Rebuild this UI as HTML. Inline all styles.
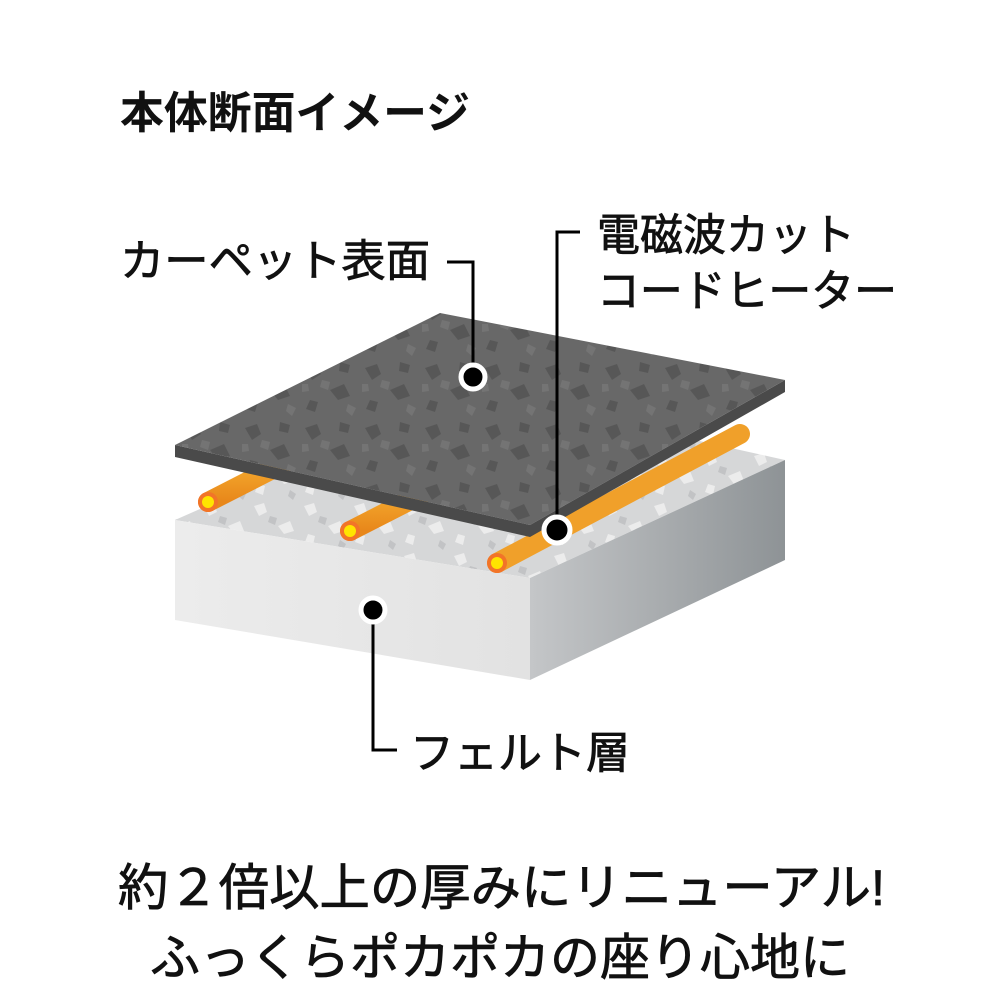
<!DOCTYPE html>
<html><head><meta charset="utf-8"><style>
html,body{margin:0;padding:0;background:#fff;}
svg{display:block}
text{font-family:"Liberation Sans","Noto Sans CJK JP",sans-serif;fill:#111;}
.m{stroke:#111;stroke-width:0.8;}
</style></head><body>
<svg width="1000" height="1000" viewBox="0 0 1000 1000" xmlns="http://www.w3.org/2000/svg">
<defs>
<linearGradient id="rside" x1="0" y1="0" x2="1" y2="0">
<stop offset="0" stop-color="#c4c6c8"/><stop offset="1" stop-color="#8e9396"/>
</linearGradient>
<linearGradient id="front" x1="0" y1="0" x2="1" y2="0">
<stop offset="0" stop-color="#ececec"/><stop offset="1" stop-color="#e2e2e2"/>
</linearGradient>
<linearGradient id="cab" x1="0" y1="0" x2="0" y2="1">
<stop offset="0" stop-color="#f7b233"/><stop offset="1" stop-color="#e8871a"/>
</linearGradient>
<pattern id="speck" width="60" height="60" patternUnits="userSpaceOnUse">
<rect width="60" height="60" fill="#686868"/>
<path d="M5 8l12-4 4 10-9 6z M30 30l14-6 6 12-12 4z M10 40l8 2-3 10-9-3z M40 2l10 3-2 8-9-2z" fill="#575757"/>
<path d="M22 20l8 2-2 8-8-3z M48 44l8 4-4 8-6-5z M2 24l6 0 1 7-7 1z" fill="#747474"/>
</pattern>
<pattern id="wspeck" width="50" height="50" patternUnits="userSpaceOnUse">
<rect width="50" height="50" fill="#d6d7d8"/>
<path d="M4 6l10-3 3 9-8 4z M28 26l12-5 4 10-10 3z M8 34l7 2-2 9-8-3z" fill="#ececec"/>
<path d="M20 16l7 2-2 7-7-3z M40 40l6 4-3 6-5-4z" fill="#c2c3c5"/>
</pattern>
</defs>

<text x="120" y="128" font-size="44" font-weight="bold" textLength="350" lengthAdjust="spacingAndGlyphs">本体断面イメージ</text>

<polygon points="175,520 470,390 785,460 530,578" fill="url(#wspeck)"/>
<polygon points="175,520 530,578 530,680 175,620" fill="url(#front)"/>
<polygon points="530,578 785,460 785,560 530,680" fill="url(#rside)"/>

<g stroke-linecap="round">
<line x1="208" y1="502" x2="300" y2="455" stroke="url(#cab)" stroke-width="20"/>
<line x1="350" y1="531" x2="440" y2="485" stroke="url(#cab)" stroke-width="20"/>
<line x1="497" y1="563" x2="740" y2="434" stroke="#f0a02a" stroke-width="20"/>
</g>
<g>
<circle cx="208" cy="502" r="10" fill="#f27428"/><circle cx="208" cy="502" r="6" fill="#ffe500"/>
<circle cx="350" cy="531" r="10" fill="#f27428"/><circle cx="350" cy="531" r="6" fill="#ffe500"/>
<circle cx="497" cy="563" r="10" fill="#f27428"/><circle cx="497" cy="563" r="6" fill="#ffe500"/>
</g>

<polygon points="175,445 530,525 785,380 785,392 530,537 175,457" fill="#4a4a4a"/>
<polygon points="440,313 785,380 530,525 175,445" fill="url(#speck)"/>

<g stroke="#000" stroke-width="3" fill="none">
<polyline points="447,262 473,262 473,377"/>
<polyline points="580,232 557,232 557,530"/>
<polyline points="373,610 373,750 397,750"/>
</g>
<g stroke="#fff" stroke-width="5" fill="#000">
<circle cx="473" cy="377" r="12"/>
<circle cx="557" cy="530" r="13"/>
<circle cx="373" cy="610" r="12"/>
</g>

<text class="m" x="120" y="276" font-size="44" textLength="310" lengthAdjust="spacingAndGlyphs">カーペット表面</text>
<text class="m" x="597" y="250" font-size="44" textLength="258" lengthAdjust="spacingAndGlyphs">電磁波カット</text>
<text class="m" x="597" y="306" font-size="44" textLength="300" lengthAdjust="spacingAndGlyphs">コードヒーター</text>
<text class="m" x="410" y="768" font-size="44" textLength="220" lengthAdjust="spacingAndGlyphs">フェルト層</text>

<text class="m" x="118" y="905" font-size="50" textLength="767" lengthAdjust="spacingAndGlyphs">約２倍以上の厚みにリニューアル!</text>
<text class="m" x="150" y="975" font-size="50" textLength="700" lengthAdjust="spacingAndGlyphs">ふっくらポカポカの座り心地に</text>
</svg>
</body></html>
